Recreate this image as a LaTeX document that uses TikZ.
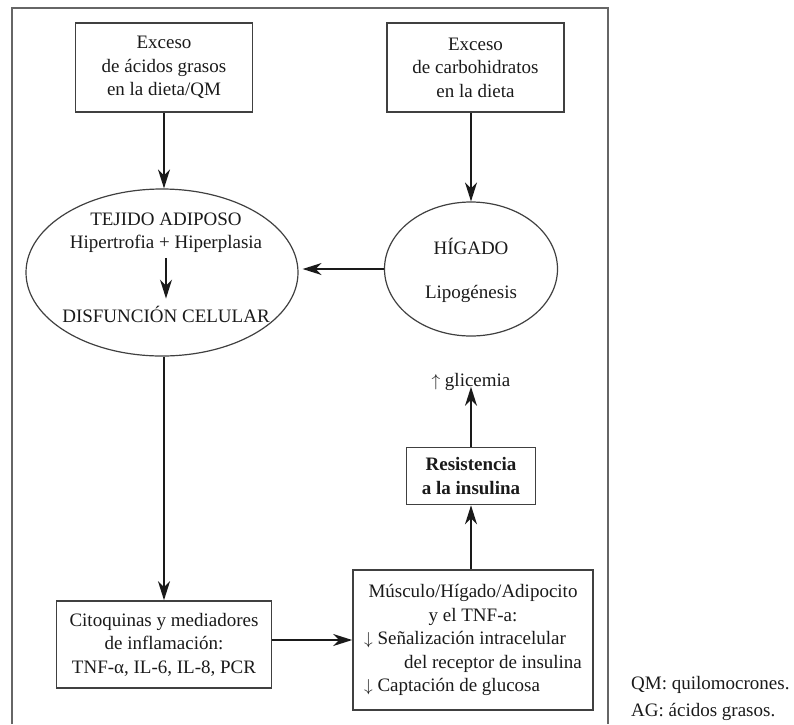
\documentclass[tikz,border=0pt]{standalone}
\usepackage{fontspec}
\setmainfont{Liberation Serif}
\usetikzlibrary{shapes.geometric,arrows.meta}
\definecolor{ink}{HTML}{1A1A1A}
\definecolor{edge}{HTML}{404040}
\definecolor{framec}{HTML}{666666}
\tikzset{
  txt/.style={font=\fontsize{19}{23}\selectfont, text=ink, inner sep=0pt, align=center},
  boxnode/.style={draw=edge, line width=1.6pt, inner sep=0pt, align=center,
    font=\fontsize{19}{23.5}\selectfont, text=ink},
  ellnode/.style={draw=edge, line width=1.2pt, ellipse, inner sep=0pt},
  flow/.style={draw=ink, line width=1.6pt,
    -{Stealth[length=19pt, width=12pt, inset=6pt]}},
  legend/.style={font=\fontsize{19}{23}\selectfont, text=ink, anchor=west, inner sep=0pt}
}
\begin{document}
\begin{tikzpicture}[x=1pt, y=-1pt]
\useasboundingbox (0,0) rectangle (794,724);

% outer frame (open at the bottom edge of the page)
\draw[framec, line width=1.8pt] (12,724) -- (12,8) -- (608,8) -- (608,724);

% input boxes
\node[boxnode, minimum width=177pt, minimum height=89pt] (fat) at (164,67.5)
  {Exceso\\ de ácidos grasos\\ en la dieta/QM};
\node[boxnode, minimum width=177pt, minimum height=89pt] (carb) at (475.5,67.5)
  {Exceso\\ de carbohidratos\\ en la dieta};

% adipose tissue ellipse
\node[ellnode, minimum width=272pt, minimum height=167pt] (adip) at (162,272.5) {};
\node[txt] (adip1) at (166,219) {TEJIDO ADIPOSO};
\node[txt] (adip2) at (166,244) {Hipertrofia + Hiperplasia};
\node[txt] (adip3) at (166,314) {DISFUNCIÓN CELULAR};

% liver ellipse
\node[ellnode, minimum width=173pt, minimum height=134pt] (liver) at (471,269) {};
\node[txt] (liver1) at (471,246) {HÍGADO};
\node[txt] (liver2) at (471,294) {Lipogénesis};

% lower boxes
\node[boxnode, minimum width=215pt, minimum height=87pt] (cyto) at (164,644.5)
  {Citoquinas y mediadores\\ de inflamación:\\ TNF-α, IL-6, IL-8, PCR};
\node[boxnode, minimum width=240pt, minimum height=140pt] (tissue) at (473,640)
  {\begin{tabular}{@{}l@{}}
   \multicolumn{1}{@{}c@{}}{Músculo/Hígado/Adipocito}\\
   \multicolumn{1}{@{}c@{}}{y el TNF-a:}\\
   $\downarrow$ Señalización intracelular\\
   \hspace*{40pt}del receptor de insulina\\
   $\downarrow$ Captación de glucosa
   \end{tabular}};
\node[boxnode, minimum width=129pt, minimum height=57pt, font=\fontsize{19}{23.5}\selectfont\bfseries] (resist) at (471,476)
  {Resistencia\\ a la insulina};
\node[txt] (gluc) at (471,382) {$\uparrow$ glicemia};

% legend
\node[legend] (leg1) at (631,685) {QM: quilomocrones.};
\node[legend] (leg2) at (631,712) {AG: ácidos grasos.};

% connectors
\draw[flow] (fat.south) -- (fat.south |- adip.north);
\draw[flow] (liver.north |- carb.south) -- (liver.north);
\draw[flow] (liver.west) -- ([xshift=4pt]liver.west -| adip.east);
\draw[flow] ([yshift=-5pt]adip2.south) -- ([yshift=7pt]adip3.north);
\draw[flow] (cyto.north |- adip.south) -- (cyto.north);
\draw[flow] (tissue.west -| cyto.east) -- (tissue.west);
\draw[flow] (resist.south |- tissue.north) -- (resist.south);
\draw[flow] (resist.north) -- ([yshift=4pt]gluc.south);
\end{tikzpicture}
\end{document}
